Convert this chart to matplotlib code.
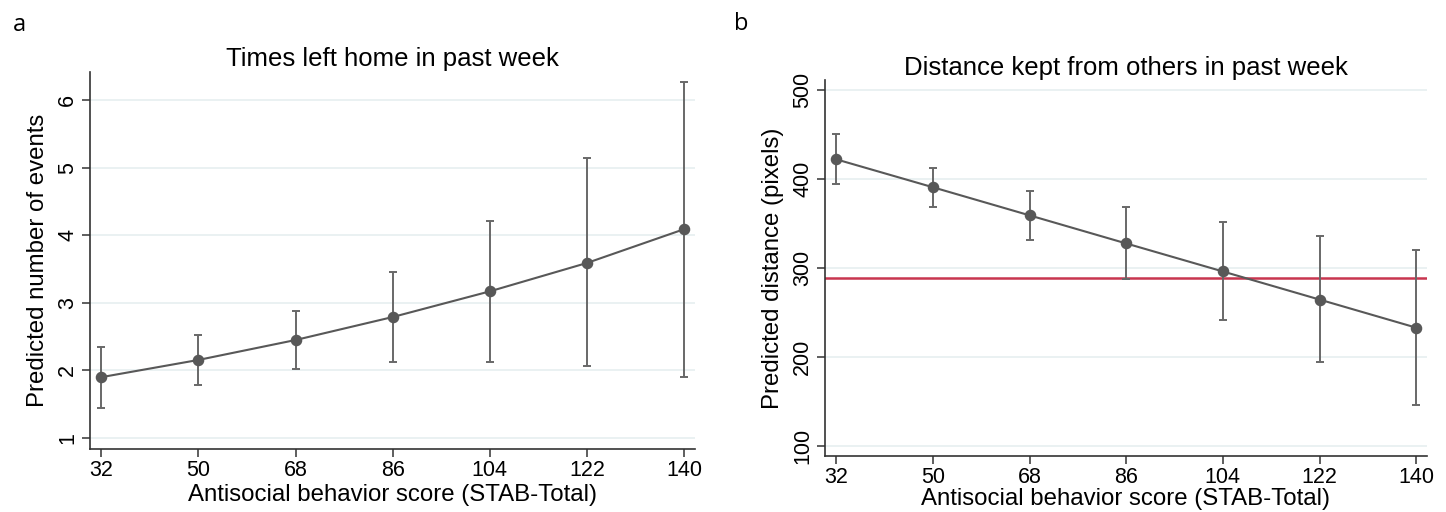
import matplotlib
matplotlib.use("Agg")
import matplotlib.pyplot as plt

plt.rcParams['font.family'] = ['Liberation Sans', 'DejaVu Sans']

# Data
scores = [32, 50, 68, 86, 104, 122, 140]

events_pred = [1.90, 2.155, 2.45, 2.79, 3.17, 3.59, 4.09]
events_low = [1.45, 1.78, 2.02, 2.12, 2.125, 2.06, 1.91]
events_high = [2.34, 2.53, 2.885, 3.45, 4.21, 5.14, 6.27]

dist_pred = [422, 390.6, 359, 327.4, 295.9, 264.3, 232.7]
dist_low = [394, 368.8, 331.2, 287.2, 241, 193.6, 145.9]
dist_high = [450, 412.8, 386.8, 368.4, 351.1, 335.7, 319.9]
dist_ref = 288.3

events_ticks = [1, 2, 3, 4, 5, 6]
dist_ticks = [100, 200, 300, 400, 500]

titles = ["Times left home in past week", "Distance kept from others in past week"]
ylabels = ["Predicted number of events", "Predicted distance (pixels)"]
xlabel = "Antisocial behavior score (STAB-Total)"
panel_labels = ["a", "b"]

LINE = "#585858"
ERR = "#686868"
GRID = "#e8f0f1"
RED = "#c8354f"

fig = plt.figure(figsize=(14.46, 5.12), dpi=100)
ax1 = fig.add_axes([0.0622, 0.1230, 0.4184, 0.737])
ax2 = fig.add_axes([0.5705, 0.1094, 0.4163, 0.734])


def style(ax, pred, low, high, ylim, yticks, title, ylabel, xpad):
    yerr = [[p - l for p, l in zip(pred, low)], [h - p for p, h in zip(pred, high)]]
    ax.errorbar(scores, pred, yerr=yerr, fmt='none', ecolor=ERR, elinewidth=1.4,
                capsize=3, capthick=1.4, zorder=3)
    ax.plot(scores, pred, color=LINE, lw=1.5, zorder=4)
    ax.plot(scores, pred, 'o', color=LINE, ms=7.3, zorder=5)
    ax.set_xlim(29.9, 142)
    ax.set_ylim(*ylim)
    ax.set_xticks(scores)
    ax.set_yticks(yticks)
    ax.grid(axis='y', color=GRID, lw=1.3, zorder=0)
    ax.set_axisbelow(True)
    for s in ['top', 'right']:
        ax.spines[s].set_visible(False)
    for s in ['left', 'bottom']:
        ax.spines[s].set_color("#333333")
        ax.spines[s].set_linewidth(1.2)
    ax.tick_params(axis='both', length=5.5, width=1.1, color="#333333", labelsize=15.5)
    ax.tick_params(axis='x', pad=2.5)
    ax.tick_params(axis='y', pad=3)
    for lab in ax.get_yticklabels():
        lab.set_rotation(90)
        lab.set_va('center')
    ax.set_title(title, fontsize=18.5, pad=4)
    ax.set_ylabel(ylabel, fontsize=17.3, labelpad=6)
    ax.set_xlabel(xlabel, fontsize=17.3, labelpad=xpad)


style(ax1, events_pred, events_low, events_high, (0.837, 6.42), events_ticks, titles[0], ylabels[0], 2)
style(ax2, dist_pred, dist_low, dist_high, (88.4, 511), dist_ticks, titles[1], ylabels[1], 0)
ax2.axhline(dist_ref, color=RED, lw=1.8, zorder=2)

fig.text(19 / 1446, 1 - 25 / 512, panel_labels[0], fontsize=17, ha='center', va='center',
         family=['Open Sans', 'DejaVu Sans'])
fig.text(741 / 1446, 1 - 24 / 512, panel_labels[1], fontsize=17, ha='center', va='center',
         family=['Open Sans', 'DejaVu Sans'])

fig.savefig("out.png", dpi=100, facecolor='white')
